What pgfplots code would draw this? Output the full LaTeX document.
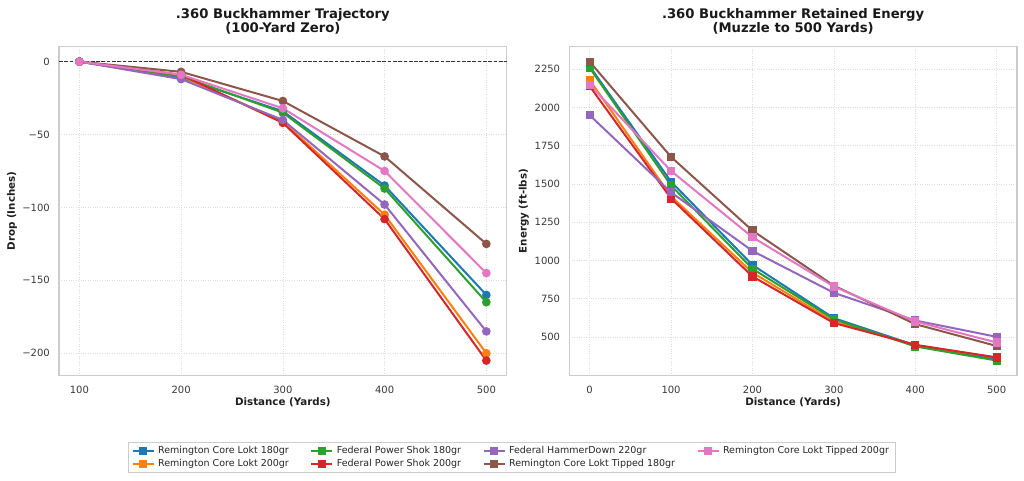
\documentclass[border=0pt]{standalone}
\usepackage{pgfplots}
\pgfplotsset{compat=1.18}
\usepackage{fontspec}
\setmainfont{DejaVu Sans}
\definecolor{c1}{HTML}{1F77B4}
\definecolor{c2}{HTML}{FF7F0E}
\definecolor{c3}{HTML}{2CA02C}
\definecolor{c4}{HTML}{D62728}
\definecolor{c5}{HTML}{9467BD}
\definecolor{c6}{HTML}{8C564B}
\definecolor{c7}{HTML}{E377C2}
\pgfplotsset{
  base/.style={
    scale only axis, width=447.7pt, height=328.8pt,
    clip=false,
    axis line style={draw=black!20, line width=1.1pt},
    grid=major, major grid style={draw=black!13, dotted, line width=0.6pt},
    major tick length=0pt, tick style={draw=none},
    tick label style={font=\fontsize{10}{12}\selectfont, text=black!78},
    /pgf/number format/assume math mode=true,
    /pgf/number format/1000 sep={},
    scaled ticks=false,
    xticklabel style={anchor=north, inner sep=0pt, yshift=-10.3pt},
    yticklabel style={anchor=east, inner sep=0pt, xshift=-9pt},
    label style={font=\bfseries\fontsize{10.3}{12}\selectfont, text=black!88},
    xlabel style={at={(axis description cs:0.5,-0.0821)}, anchor=center},
  },
  ln/.style={#1, line width=2pt},
  cl/.style={ln=#1, mark=*, mark size=3.3pt, mark options={solid, fill=#1, draw=#1}},
  sq/.style={ln=#1, mark=square*, mark size=3.1pt, mark options={solid, fill=#1, draw=#1}},
}
\begin{document}
\begin{tikzpicture}
\useasboundingbox (0,0) rectangle (1024pt,481pt);
% ---------------- Left: trajectory ----------------
\begin{axis}[base,
  at={(59pt,105.5pt)}, anchor=south west,
  xmin=80, xmax=520, ymin=-215.25, ymax=10.25,
  xtick={100,200,300,400,500},
  ytick={-200,-150,-100,-50,0},
  yticklabels={−200,−150,−100,−50,0},
  xlabel={Distance (Yards)}, ylabel={Drop (Inches)},
  ylabel style={at={(axis description cs:-0.105,0.5)}, anchor=center},
]
\addplot[black!80, line width=0.8pt, dash pattern=on 3.7pt off 1.6pt, forget plot] coordinates {(80,0) (520,0)};
\addplot[cl=c1] coordinates {(100,0) (200,-11) (300,-34) (400,-85) (500,-160)};
\addplot[cl=c2] coordinates {(100,0) (200,-10) (300,-41) (400,-105) (500,-200)};
\addplot[cl=c3] coordinates {(100,0) (200,-10) (300,-35) (400,-87) (500,-165)};
\addplot[cl=c4] coordinates {(100,0) (200,-9) (300,-42) (400,-108) (500,-205)};
\addplot[cl=c5] coordinates {(100,0) (200,-12) (300,-40) (400,-98) (500,-185)};
\addplot[cl=c6] coordinates {(100,0) (200,-7) (300,-27) (400,-65) (500,-125)};
\addplot[cl=c7] coordinates {(100,0) (200,-9) (300,-32) (400,-75) (500,-145)};
\node[font=\bfseries\fontsize{13.2}{15}\selectfont, text=black!90, anchor=base] at (axis description cs:0.5,1) [yshift=28.4pt] {.360 Buckhammer Trajectory};
\node[font=\bfseries\fontsize{13.2}{15}\selectfont, text=black!90, anchor=base] at (axis description cs:0.5,1) [yshift=14.4pt] {(100-Yard Zero)};
\end{axis}
% ---------------- Right: energy ----------------
\begin{axis}[base,
  at={(569.3pt,105.5pt)}, anchor=south west,
  xmin=-25, xmax=525, ymin=247, ymax=2398,
  xtick={0,100,200,300,400,500},
  ytick={500,750,1000,1250,1500,1750,2000,2250},
  xlabel={Distance (Yards)}, ylabel={Energy (ft-lbs)},
  ylabel style={at={(axis description cs:-0.1018,0.5)}, anchor=center},
  legend columns=4,
  legend cell align=left,
  legend image code/.code={\draw[mark repeat=2,mark phase=2,#1] plot coordinates {(0pt,0pt) (10.5pt,0pt) (21pt,0pt)};},
  legend style={at={(axis description cs:-0.1279,-0.2494)}, anchor=center,
    draw=black!20, fill=white,
    font=\fontsize{9.5}{11}\selectfont, text=black!85,
    nodes={inner ysep=2.1pt, inner xsep=3.5pt},
    /tikz/every even column/.append style={column sep=18pt}},
  legend entries={Remington Core Lokt 180gr, Federal Power Shok 180gr, Federal HammerDown 220gr, Remington Core Lokt Tipped 200gr, Remington Core Lokt 200gr, Federal Power Shok 200gr, Remington Core Lokt Tipped 180gr},
]
\addlegendimage{sq=c1}
\addlegendimage{sq=c3}
\addlegendimage{sq=c5}
\addlegendimage{sq=c7}
\addlegendimage{sq=c2}
\addlegendimage{sq=c4}
\addlegendimage{sq=c6}
\addplot[sq=c1, forget plot] coordinates {(0,2270) (100,1515) (200,970) (300,622) (400,445) (500,355)};
\addplot[sq=c2, forget plot] coordinates {(0,2180) (100,1420) (200,920) (300,600) (400,445) (500,365)};
\addplot[sq=c3, forget plot] coordinates {(0,2260) (100,1490) (200,945) (300,615) (400,437) (500,345)};
\addplot[sq=c4, forget plot] coordinates {(0,2140) (100,1405) (200,895) (300,590) (400,448) (500,365)};
\addplot[sq=c5, forget plot] coordinates {(0,1950) (100,1445) (200,1062) (300,788) (400,607) (500,500)};
\addplot[sq=c6, forget plot] coordinates {(0,2300) (100,1677) (200,1195) (300,835) (400,583) (500,440)};
\addplot[sq=c7, forget plot] coordinates {(0,2150) (100,1585) (200,1152) (300,829) (400,600) (500,463)};
\node[font=\bfseries\fontsize{13.2}{15}\selectfont, text=black!90, anchor=base] at (axis description cs:0.5,1) [yshift=28.4pt] {.360 Buckhammer Retained Energy};
\node[font=\bfseries\fontsize{13.2}{15}\selectfont, text=black!90, anchor=base] at (axis description cs:0.5,1) [yshift=14.4pt] {(Muzzle to 500 Yards)};
\end{axis}
\end{tikzpicture}
\end{document}
